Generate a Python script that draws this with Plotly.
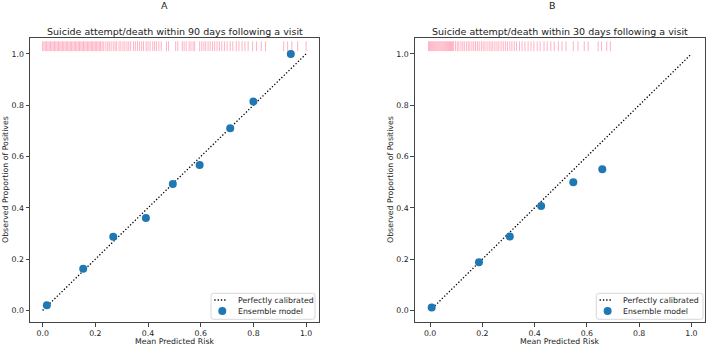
import plotly.graph_objects as go

# ---------------- data ----------------
perfect_x = [0.0, 1.0]
perfect_y = [0.0, 1.0]

a_pred = [0.016, 0.154, 0.268, 0.392, 0.494, 0.596, 0.712, 0.80, 0.942]
a_obs = [0.020, 0.163, 0.287, 0.360, 0.493, 0.567, 0.710, 0.814, 1.000]

b_pred = [0.006, 0.187, 0.305, 0.425, 0.548, 0.659]
b_obs = [0.012, 0.188, 0.288, 0.407, 0.500, 0.550]

# rug: individual predicted risks
a_rug = [0.000, 0.005, 0.010, 0.015, 0.020, 0.025, 0.030, 0.035, 0.040, 0.045,
         0.050, 0.055, 0.060, 0.065, 0.070, 0.075, 0.080, 0.085, 0.090, 0.095,
         0.100, 0.105, 0.110, 0.115, 0.120, 0.125, 0.130, 0.135, 0.140, 0.145,
         0.150, 0.155, 0.160, 0.165, 0.170, 0.175, 0.180, 0.185, 0.190, 0.195,
         0.200, 0.205, 0.210, 0.215, 0.220, 0.226, 0.232, 0.240, 0.247, 0.253,
         0.260, 0.268, 0.275, 0.281, 0.290, 0.297, 0.305, 0.312, 0.320, 0.327,
         0.334, 0.345, 0.352, 0.360, 0.368, 0.376, 0.383, 0.393, 0.400, 0.408,
         0.418, 0.425, 0.432, 0.441, 0.450, 0.470, 0.478, 0.505, 0.513, 0.530,
         0.537, 0.545, 0.556, 0.563, 0.571, 0.577, 0.596, 0.604, 0.612, 0.619,
         0.628, 0.636, 0.645, 0.653, 0.662, 0.671, 0.680, 0.690, 0.700, 0.712,
         0.722, 0.735, 0.745, 0.757, 0.768, 0.780, 0.797, 0.812, 0.830, 0.846,
         0.915, 0.930, 0.946, 0.968, 1.000]

b_rug = [-0.006, -0.002, 0.002, 0.006, 0.010, 0.014, 0.018, 0.022, 0.026, 0.030,
         0.034, 0.038, 0.042, 0.046, 0.050, 0.054, 0.058, 0.062, 0.066, 0.070,
         0.074, 0.078, 0.082, 0.086, 0.090, 0.097, 0.104, 0.110, 0.118, 0.125,
         0.131, 0.139, 0.146, 0.152, 0.160, 0.167, 0.174, 0.181, 0.188, 0.196,
         0.203, 0.210, 0.218, 0.226, 0.233, 0.240, 0.248, 0.256, 0.263, 0.272,
         0.280, 0.288, 0.296, 0.305, 0.313, 0.322, 0.331, 0.342, 0.352, 0.363,
         0.375, 0.386, 0.397, 0.410, 0.421, 0.436, 0.448, 0.462, 0.475, 0.491,
         0.505, 0.520, 0.548, 0.566, 0.590, 0.605, 0.643, 0.656, 0.676, 0.690]

rug_level = 1.03

legend_labels = ["Perfectly calibrated", "Ensemble model"]

# ---------------- figure ----------------
W, H = 706, 346
fig = go.Figure()

def px_x(p):
    return p / W

def px_y(p):
    return 1 - p / H

dom_a = [30 / W, 319 / W]
dom_b = [414.7 / W, 704.7 / W]
dom_y = [1 - 322 / H, 1 - 38 / H]

blue = "#1f77b4"
rug_col = "rgba(255,165,185,0.85)"
text_col = "#222"
FS = 7.8

def add_panel(xref, yref, pred, obs, rug):
    fig.add_trace(go.Scatter(
        x=rug, y=[rug_level] * len(rug), mode="markers", xaxis=xref, yaxis=yref,
        marker=dict(symbol="line-ns-open", size=7, color=rug_col,
                    line=dict(color=rug_col, width=1)),
        showlegend=False, hoverinfo="skip"))
    fig.add_trace(go.Scatter(
        x=perfect_x, y=perfect_y, mode="lines", xaxis=xref, yaxis=yref,
        line=dict(color="black", dash="1.3px,2px", width=1.3),
        name=legend_labels[0], showlegend=False))
    fig.add_trace(go.Scatter(
        x=pred, y=obs, mode="markers", xaxis=xref, yaxis=yref,
        marker=dict(color=blue, size=8),
        name=legend_labels[1], showlegend=False))

add_panel("x", "y", a_pred, a_obs, a_rug)
add_panel("x2", "y2", b_pred, b_obs, b_rug)

tick_font = dict(family="DejaVu Sans", size=FS, color=text_col)
ax_common = dict(
    showgrid=False, zeroline=False, showline=True, linecolor="#444", linewidth=1,
    mirror=True, ticks="outside", ticklen=3.5, tickcolor="#444", tickwidth=1,
    tickfont=tick_font, tickvals=[0.0, 0.2, 0.4, 0.6, 0.8, 1.0],
    ticktext=["0.0", "0.2", "0.4", "0.6", "0.8", "1.0"],
)

fig.update_layout(
    width=W, height=H, margin=dict(l=0, r=0, t=0, b=0),
    paper_bgcolor="white", plot_bgcolor="white", showlegend=False,
    xaxis=dict(domain=dom_a, anchor="y", range=[-0.048, 1.049], **ax_common),
    yaxis=dict(domain=dom_y, anchor="x", range=[-0.045, 1.062], **ax_common),
    xaxis2=dict(domain=dom_b, anchor="y2", range=[-0.059, 1.051], **ax_common),
    yaxis2=dict(domain=dom_y, anchor="x2", range=[-0.045, 1.062], **ax_common),
    font=dict(family="DejaVu Sans"),
)

def note(text, x, y, size=FS, angle=0, xanchor="center"):
    fig.add_annotation(xref="paper", yref="paper", x=x, y=y, text=text,
                       showarrow=False, xanchor=xanchor, yanchor="middle", textangle=angle,
                       font=dict(family="DejaVu Sans", size=size, color=text_col))

# panel letters and titles
note("A", px_x(164), px_y(5), size=9.5)
note("B", px_x(552), px_y(5), size=9.5)
note("Suicide attempt/death within 90 days following a visit", sum(dom_a) / 2, px_y(31), size=9.5)
note("Suicide attempt/death within 30 days following a visit", sum(dom_b) / 2, px_y(31), size=9.5)

# axis titles
note("Mean Predicted Risk", sum(dom_a) / 2, px_y(341.5))
note("Mean Predicted Risk", sum(dom_b) / 2, px_y(341.5))
note("Observed Proportion of Positives", px_x(5), sum(dom_y) / 2, angle=-90)
note("Observed Proportion of Positives", px_x(390), sum(dom_y) / 2, angle=-90)

# legends (matplotlib-style boxes in the lower right corner)
def legend_box(left, right, top=293.3, bottom=319.3):
    r = 2.5
    x0, x1 = px_x(left), px_x(right)
    y0, y1 = px_y(bottom), px_y(top)
    rx, ry = r / W, r / H
    path = (f"M {x0+rx},{y0} L {x1-rx},{y0} Q {x1},{y0} {x1},{y0+ry} "
            f"L {x1},{y1-ry} Q {x1},{y1} {x1-rx},{y1} L {x0+rx},{y1} "
            f"Q {x0},{y1} {x0},{y1-ry} L {x0},{y0+ry} Q {x0},{y0} {x0+rx},{y0} Z")
    fig.add_shape(type="path", xref="paper", yref="paper", path=path,
                  line=dict(color="#d8d8d8", width=1), fillcolor="rgba(255,255,255,0.8)")
    # dotted line sample
    fig.add_shape(type="line", xref="paper", yref="paper",
                  x0=px_x(left + 3.3), x1=px_x(left + 16.3), y0=px_y(300), y1=px_y(300),
                  line=dict(color="black", width=1.3, dash="1.3px,2px"))
    # marker sample
    cx, cy, rad = left + 11.3, 311, 4
    fig.add_shape(type="circle", xref="paper", yref="paper",
                  x0=px_x(cx - rad), x1=px_x(cx + rad), y0=px_y(cy + rad), y1=px_y(cy - rad),
                  line=dict(width=0), fillcolor=blue)
    note(legend_labels[0], px_x(left + 25), px_y(300), xanchor="left")
    note(legend_labels[1], px_x(left + 25), px_y(311), xanchor="left")

legend_box(211, 315)
legend_box(596.3, 703)

fig.write_html("out.html", config={"displayModeBar": False},
               post_script="document.body.style.margin='0';")
